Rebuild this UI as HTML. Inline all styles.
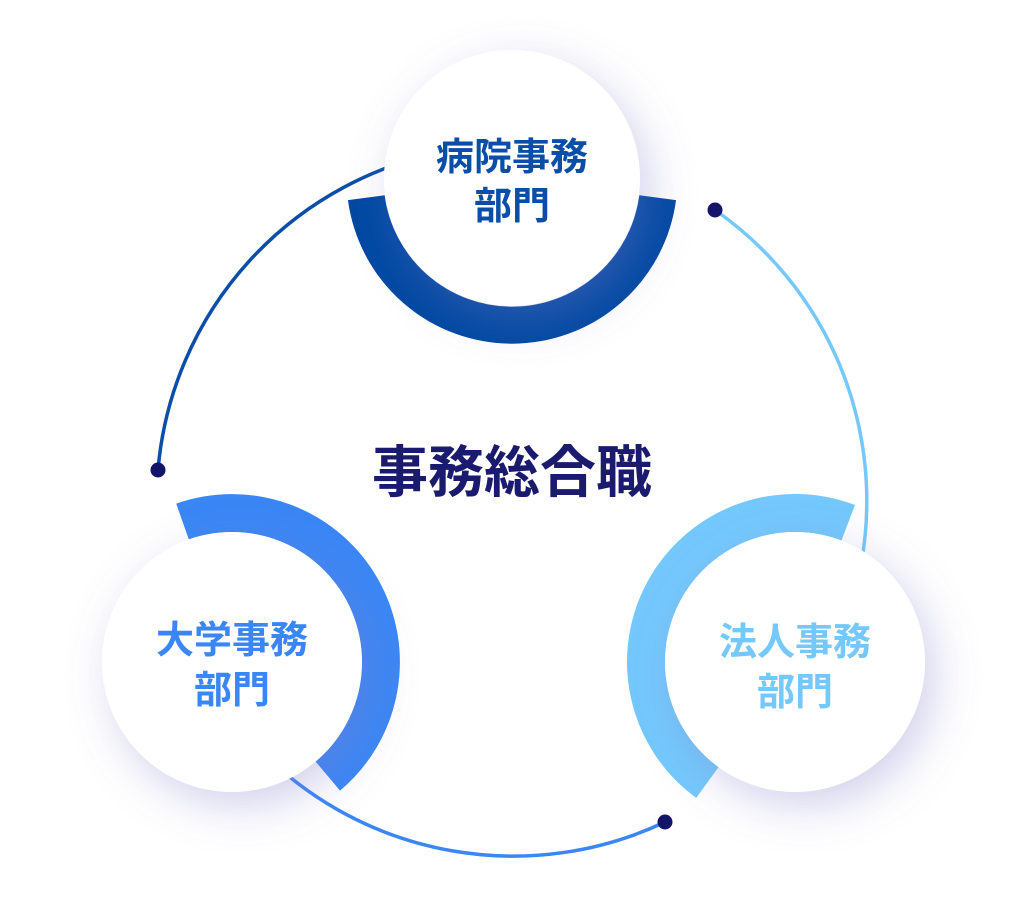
<!DOCTYPE html>
<html><head><meta charset="utf-8"><style>
html,body{margin:0;padding:0;background:#fff;}
svg{display:block}
text{font-family:"Liberation Sans","Noto Sans CJK JP",sans-serif;font-weight:700;text-anchor:middle;}
</style></head><body>
<svg width="1024" height="915" viewBox="0 0 1024 915" xmlns="http://www.w3.org/2000/svg">
<defs>
<filter id="sh" x="-50%" y="-50%" width="200%" height="200%">
<feGaussianBlur in="SourceAlpha" stdDeviation="22"/>
<feOffset dx="10" dy="14" result="b"/>
<feFlood flood-color="#7c7cc8" flood-opacity="0.35"/>
<feComposite in2="b" operator="in"/>
<feMerge><feMergeNode/><feMergeNode in="SourceGraphic"/></feMerge>
</filter>
</defs>
<path d="M158,470 A355,355 0 0 1 450.4,150.4" fill="none" stroke="#0a4ea8" stroke-width="3.5"/>
<path d="M715,210 A355,355 0 0 1 861.6,561.6" fill="none" stroke="#74c8fc" stroke-width="3.5"/>
<path d="M665,822 A355,355 0 0 1 261,751" fill="none" stroke="#3a86f5" stroke-width="3.5"/>
<path d="M657.7,197.7 A147,147 0 0 1 366.3,197.7" fill="none" stroke="#0048a2" stroke-width="37"/>
<path d="M182.5,521.5 A149,149 0 0 1 327.8,776.1" fill="none" stroke="#3a86f5" stroke-width="38"/>
<path d="M848.2,522.8 A149,149 0 0 0 707.4,782.5" fill="none" stroke="#74c8fc" stroke-width="38"/>
<g filter="url(#sh)">
<circle cx="512" cy="178" r="128" fill="#fff"/>
<circle cx="232" cy="662" r="130" fill="#fff"/>
<circle cx="795" cy="662" r="130" fill="#fff"/>
</g>
<circle cx="158" cy="470" r="7.5" fill="#14146a"/>
<circle cx="715" cy="210" r="7.5" fill="#14146a"/>
<circle cx="665" cy="822" r="7.5" fill="#14146a"/>
<text x="512" y="170" font-size="38" fill="#0a4ea8">病院事務</text>
<text x="512" y="219" font-size="38" fill="#0a4ea8">部門</text>
<text x="232" y="653" font-size="38" fill="#3a86f5">大学事務</text>
<text x="232" y="703" font-size="38" fill="#3a86f5">部門</text>
<text x="795" y="655" font-size="38" fill="#74c8fc">法人事務</text>
<text x="795" y="705" font-size="38" fill="#74c8fc">部門</text>
<text x="512" y="492" font-size="56" fill="#1a1a6e">事務総合職</text>
</svg>
</body></html>
